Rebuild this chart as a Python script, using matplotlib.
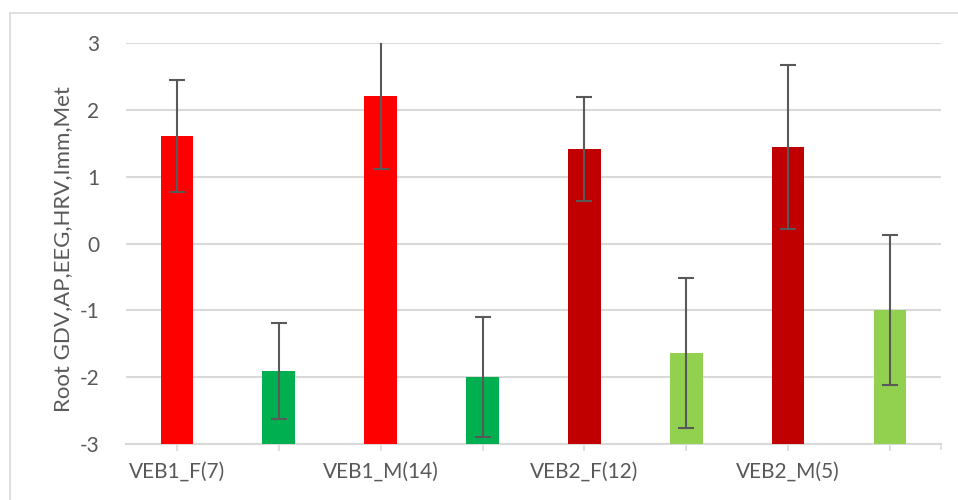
import numpy as np
import matplotlib.pyplot as plt
from matplotlib.lines import Line2D

# Group labels (every second slot is unlabeled), means and error half-widths
labels = ["VEB1_F(7)", "", "VEB1_M(14)", "", "VEB2_F(12)", "", "VEB2_M(5)", ""]
means = [1.61, -1.91, 2.21, -2.00, 1.41, -1.64, 1.44, -0.99]
errors = [0.84, 0.72, 1.10, 0.90, 0.78, 1.12, 1.23, 1.12]
colors = ["#FF0000", "#00B050", "#FF0000", "#00B050",
          "#C00000", "#92D050", "#C00000", "#92D050"]

plt.rcParams["font.family"] = ["Lato", "DejaVu Sans"]
plt.rcParams["axes.unicode_minus"] = False
text_color = "#595959"
grid_color = "#D9D9D9"
base = -3

fig = plt.figure(figsize=(9.58, 5.0), dpi=100)
ax = fig.add_axes([0.1315, 0.112, 0.8507, 0.802])

x = np.arange(len(means))
heights = np.array(means) - base
ax.bar(x, heights, bottom=base, width=0.32, color=colors, zorder=2)
ax.errorbar(x, means, yerr=errors, fmt="none", ecolor=text_color,
            elinewidth=1.5, capsize=6, capthick=1.5, zorder=3)

ax.set_xlim(-0.5, len(means) - 0.5)
ax.set_ylim(-3, 3)
ax.set_yticks(range(-3, 4))
ax.set_xticks(x)
ax.set_xticklabels(labels)

ax.yaxis.grid(True, color=grid_color, linewidth=1.5, zorder=0)
ax.set_axisbelow(True)
for side in ["top", "right", "left"]:
    ax.spines[side].set_visible(False)
ax.spines["bottom"].set_color(grid_color)
ax.spines["bottom"].set_linewidth(1.5)
ax.spines["bottom"].set_zorder(1)

ax.tick_params(axis="y", length=0, pad=19, labelsize=15, labelcolor=text_color)
ax.tick_params(axis="x", length=5, width=1.2, color=grid_color, pad=8,
               labelsize=15, labelcolor=text_color)

# small closing tick at the right end of the category axis
ax.plot([len(means) - 0.5] * 2, [0, -0.012], transform=ax.get_xaxis_transform(),
        color=grid_color, lw=1.2, clip_on=False)

ax.set_ylabel("Root GDV,AP,EEG,HRV,Imm,Met", fontsize=16, color=text_color)
ax.yaxis.set_label_coords(-53 / 815, 0.485)

# outer chart frame
fig.add_artist(Line2D([10 / 958, 10 / 958], [0, 1 - 13 / 500], color=grid_color,
                      lw=1.2, transform=fig.transFigure))
fig.add_artist(Line2D([10 / 958, 1], [1 - 13 / 500, 1 - 13 / 500], color=grid_color,
                      lw=1.2, transform=fig.transFigure))

fig.savefig("out.png", dpi=100, facecolor="white")
